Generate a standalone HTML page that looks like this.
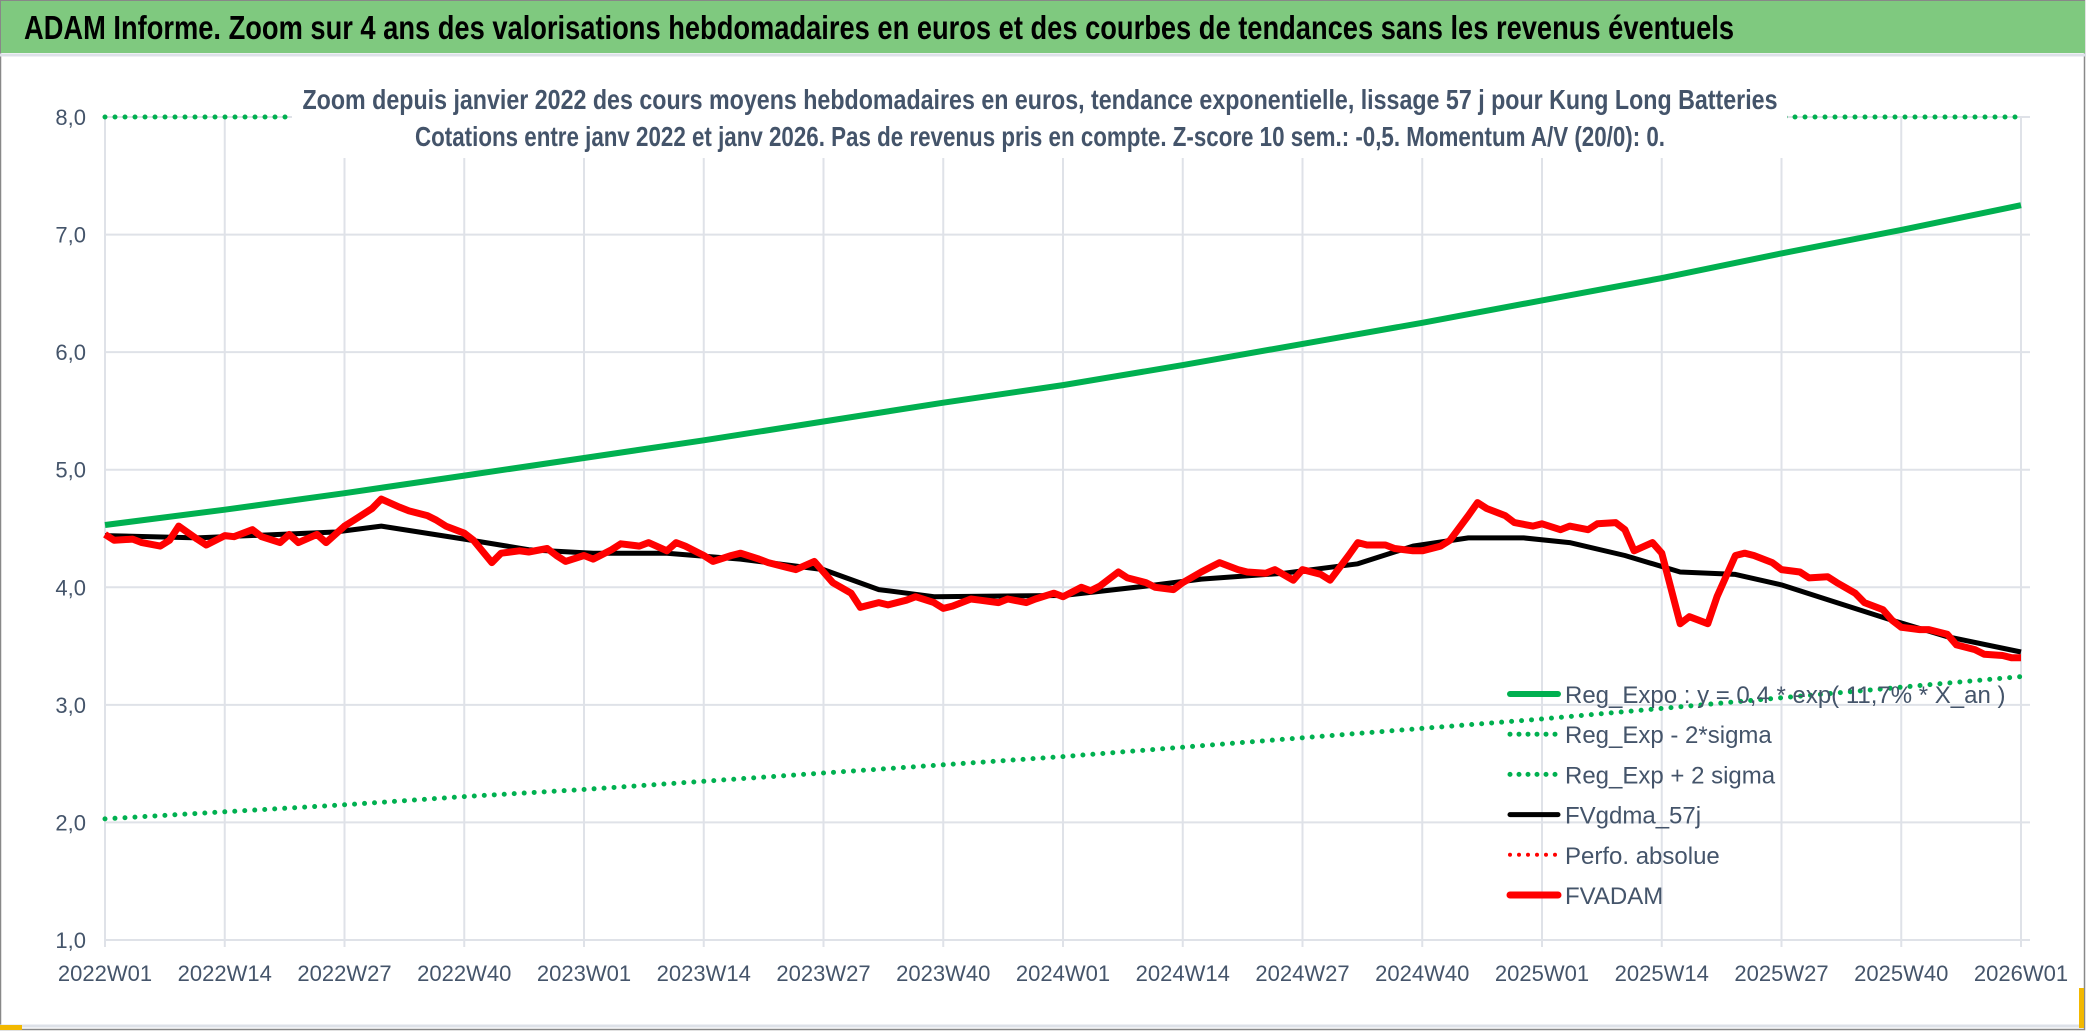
<!DOCTYPE html>
<html><head><meta charset="utf-8"><style>
html,body{margin:0;padding:0;background:#fff}
svg{display:block}
text{font-family:"Liberation Sans Narrow","Liberation Sans",sans-serif}
</style></head><body>
<svg id="c" width="2086" height="1031" xmlns="http://www.w3.org/2000/svg">
<rect x="0" y="0" width="2086" height="1031" fill="#fff"/>
<rect x="0.5" y="0.5" width="2084" height="1029" fill="none" stroke="#888" stroke-width="1.5"/>
<rect x="1" y="1" width="2084" height="52" fill="#7fc97f"/>
<line x1="0" y1="55" x2="2086" y2="55" stroke="#dde1e8" stroke-width="3"/>
<text x="24" y="39" font-size="33" font-weight="bold" fill="#000" textLength="1710" lengthAdjust="spacingAndGlyphs">ADAM Informe. Zoom sur 4 ans des valorisations hebdomadaires en euros et des courbes de tendances sans les revenus éventuels</text>
<line x1="0" y1="1026" x2="2080" y2="1026" stroke="#dde1e8" stroke-width="3"/>
<rect x="0" y="1025" width="22" height="5" fill="#f2b800"/>
<rect x="2079" y="988" width="5" height="40" fill="#f2b800"/>
<g id="grid"></g>
<g id="series"></g>
<rect x="292" y="78" width="1495" height="80" fill="#fff"/>
<text x="1040" y="109" font-size="28" font-weight="bold" fill="#44546a" text-anchor="middle" textLength="1475" lengthAdjust="spacingAndGlyphs">Zoom depuis janvier 2022 des cours moyens hebdomadaires en euros, tendance exponentielle, lissage 57 j pour Kung Long Batteries</text>
<text x="1040" y="146" font-size="28" font-weight="bold" fill="#44546a" text-anchor="middle" textLength="1250" lengthAdjust="spacingAndGlyphs">Cotations entre janv 2022 et janv 2026. Pas de revenus pris en compte. Z-score 10 sem.: -0,5. Momentum A/V (20/0): 0.</text>
<g id="legend"></g>
</svg>
<script>
const xTickLabels=["2022W01","2022W14","2022W27","2022W40","2023W01","2023W14","2023W27","2023W40","2024W01","2024W14","2024W27","2024W40","2025W01","2025W14","2025W27","2025W40","2026W01"];
const yTicks=[1,2,3,4,5,6,7,8];
const trendWeeks=[0,13,26,39,52,65,78,91,104,117,130,143,156,169,182,195,208];
const regExpo=[4.53,4.66,4.80,4.95,5.10,5.25,5.41,5.57,5.72,5.89,6.07,6.25,6.44,6.63,6.84,7.04,7.25];
const regMinus=[2.03,2.09,2.15,2.22,2.28,2.35,2.42,2.49,2.56,2.64,2.72,2.80,2.88,2.97,3.06,3.15,3.24];
const regPlus=[8.6,8.9,9.2,9.5,9.8,10.1,10.4,10.7,11.0,11.3,11.6,11.9,12.2,12.5,12.9,13.3,13.7];
const blackWeeks=[0,10,25,30,39,46,53,61,69,78,84,90,104,113,119,128,136,142,148,154,159,165,171,177,182,188,194,200,208];
const blackVals=[4.44,4.42,4.47,4.52,4.41,4.32,4.29,4.29,4.24,4.15,3.98,3.92,3.93,4.01,4.07,4.12,4.20,4.35,4.42,4.42,4.38,4.27,4.13,4.11,4.02,3.87,3.72,3.58,3.45];
const redWeeks=[0,1,3,4,6,7,8,10,11,13,14,16,17,19,20,21,23,24,26,27,29,30,32,33,35,36,37,39,40,42,43,45,46,48,49,50,52,53,55,56,58,59,61,62,63,65,66,68,69,71,72,74,75,77,78,79,81,82,84,85,87,88,90,91,92,94,95,97,98,100,101,103,104,106,107,108,110,111,113,114,116,117,119,120,121,123,124,126,127,129,130,132,133,135,136,137,139,140,142,143,145,146,148,149,150,152,153,155,156,158,159,161,162,164,165,166,168,169,171,172,174,175,177,178,179,181,182,184,185,187,188,190,191,193,194,195,197,198,200,201,203,204,206,207,208];
const redVals=[4.45,4.40,4.41,4.38,4.35,4.40,4.52,4.41,4.36,4.44,4.43,4.49,4.43,4.38,4.45,4.38,4.45,4.38,4.52,4.57,4.67,4.75,4.68,4.65,4.61,4.57,4.52,4.46,4.40,4.21,4.29,4.31,4.30,4.33,4.27,4.22,4.27,4.24,4.32,4.37,4.35,4.38,4.31,4.38,4.35,4.27,4.22,4.27,4.29,4.24,4.21,4.17,4.15,4.22,4.13,4.04,3.95,3.83,3.87,3.85,3.89,3.92,3.87,3.82,3.84,3.90,3.89,3.87,3.90,3.87,3.90,3.95,3.92,4.00,3.97,4.01,4.13,4.08,4.04,4.00,3.98,4.04,4.13,4.17,4.21,4.15,4.13,4.12,4.15,4.06,4.15,4.11,4.06,4.27,4.38,4.36,4.36,4.33,4.31,4.31,4.35,4.40,4.61,4.72,4.67,4.61,4.55,4.52,4.54,4.49,4.52,4.49,4.54,4.55,4.49,4.31,4.38,4.29,3.69,3.75,3.69,3.92,4.27,4.29,4.27,4.21,4.15,4.13,4.08,4.09,4.04,3.95,3.87,3.81,3.72,3.66,3.64,3.64,3.60,3.51,3.47,3.43,3.42,3.40,3.40];

const NS="http://www.w3.org/2000/svg";
const X0=105,X1=2021,Y1v=940,Y8v=117,W=208;
const xs=w=>X0+(X1-X0)*w/W;
const ys=v=>Y1v-(v-1)*(Y1v-Y8v)/7;
const yc=v=>ys(Math.min(8,Math.max(1,v)));
function mk(tag,attrs,parent){const e=document.createElementNS(NS,tag);for(const k in attrs)e.setAttribute(k,attrs[k]);parent.appendChild(e);return e;}
const grid=document.getElementById('grid'),series=document.getElementById('series'),legend=document.getElementById('legend');
yTicks.forEach(v=>{
  const l=mk('line',{x1:X0,x2:X1+9,y1:ys(v),y2:ys(v),stroke:'#dfe2e8','stroke-width':2},grid);
  
  
  const t=mk('text',{x:86,y:ys(v)+8,'font-size':22,fill:'#44546a','text-anchor':'end'},grid);
  t.textContent=v.toFixed(1).replace('.',',');
  
  
});
xTickLabels.forEach((s,i)=>{
  const x=xs(i*13);
  const l=mk('line',{x1:x,x2:x,y1:ys(8),y2:ys(1)+7,stroke:'#dfe2e8','stroke-width':2},grid);
  
  
  const t=mk('text',{x:x,y:981,'font-size':22,fill:'#44546a','text-anchor':'middle'},grid);
  t.textContent=s;
  
  
});
function pts(ws,vs){return ws.map((w,i)=>xs(w).toFixed(1)+','+yc(vs[i]).toFixed(1)).join(' ');}
const dotted={'stroke-dasharray':'0 10','stroke-linecap':'round'};
let p;
p=mk('polyline',Object.assign({points:pts(trendWeeks,regPlus),fill:'none',stroke:'#00b050','stroke-width':5},dotted),series);


p=mk('polyline',Object.assign({points:pts(trendWeeks,regMinus),fill:'none',stroke:'#00b050','stroke-width':5},dotted),series);


p=mk('polyline',{points:pts(trendWeeks,regExpo),fill:'none',stroke:'#00b050','stroke-width':6,'stroke-linejoin':'round'},series);


p=mk('polyline',{points:pts(blackWeeks,blackVals),fill:'none',stroke:'#000','stroke-width':5,'stroke-linejoin':'round'},series);


p=mk('polyline',{points:pts(redWeeks,redVals),fill:'none',stroke:'#ff0000','stroke-width':7,'stroke-linejoin':'round'},series);



const legItems=[
 ["Reg_Expo : y = 0,4 * exp( 11,7% * X_an )",'#00b050',6,false,'legend-reg-expo'],
 ["Reg_Exp - 2*sigma",'#00b050',5,true,'legend-reg-exp-minus'],
 ["Reg_Exp + 2 sigma",'#00b050',5,true,'legend-reg-exp-plus'],
 ["FVgdma_57j",'#000',5,false,'legend-fvgdma'],
 ["Perfo. absolue",'#ff0000',4,true,'legend-perfo-absolue'],
 ["FVADAM",'#ff0000',7,false,'legend-fvadam']];
legItems.forEach((it,i)=>{
  const y=694+i*40.2;
  const g=mk('g',{},legend);
  
  
  const a={x1:1510,x2:1558,y1:y,y2:y,stroke:it[1],'stroke-width':it[2],'stroke-linecap':'round'};
  if(it[3])a['stroke-dasharray']='0 9';
  mk('line',a,g);
  const t=mk('text',{x:1565,y:y+9,'font-size':24,fill:'#44546a'},g);
  t.textContent=it[0];
});
</script>
</body></html>
